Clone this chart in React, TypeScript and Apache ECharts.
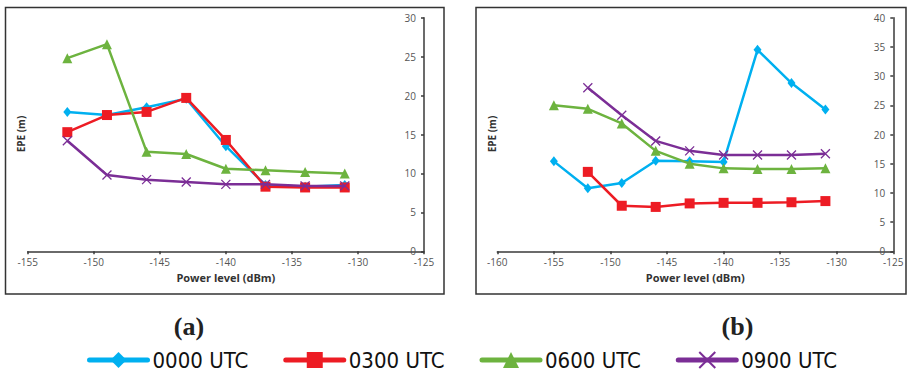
import React, { useEffect, useRef } from "react";
import * as echarts from "echarts";

const seriesNames = ["0000 UTC", "0300 UTC", "0600 UTC", "0900 UTC"];
const colors = ["#00b0f0", "#ed1c24", "#6db33f", "#7b2e96"];

const xA = [-152, -149, -146, -143, -140, -137, -134, -131];
const a0000 = [17.9, 17.5, 18.5, 19.6, 13.5, 8.5, 8.3, 8.5];
const a0300 = [15.3, 17.5, 17.9, 19.7, 14.3, 8.3, 8.2, 8.2];
const a0600 = [24.8, 26.6, 12.8, 12.5, 10.6, 10.4, 10.2, 10.0];
const a0900 = [14.2, 9.8, 9.2, 8.9, 8.6, 8.6, 8.4, 8.4];

const xB = [-155, -152, -149, -146, -143, -140, -137, -134, -131];
const b0000 = [15.4, 10.8, 11.7, 15.5, 15.4, 15.3, 34.5, 28.8, 24.3];
const b0300 = [null, 13.6, 7.8, 7.6, 8.2, 8.3, 8.3, 8.4, 8.6];
const b0600 = [25.0, 24.4, 21.9, 17.2, 15.0, 14.2, 14.1, 14.1, 14.2];
const b0900 = [null, 28.0, 23.3, 18.9, 17.2, 16.5, 16.5, 16.5, 16.7];

const xTicksA = { min: -155, max: -125, interval: 5 };
const xTicksB = { min: -160, max: -125, interval: 5 };
const yTicksA = { min: 0, max: 30, interval: 5 };
const yTicksB = { min: 0, max: 40, interval: 5 };

const crossPath = "path://M0,0L10,10M10,0L0,10";
const symbols = ["diamond", "rect", "triangle", crossPath];
const symbolSizes: any[] = [[8, 10], 10, 10, 9];

function pairs(xs: number[], ys: (number | null)[]) {
  const out: number[][] = [];
  xs.forEach((x, i) => {
    const y = ys[i];
    if (y !== null && y !== undefined) out.push([x, y]);
  });
  return out;
}

export default function App() {
  const ref = useRef<HTMLDivElement>(null);
  useEffect(() => {
    if (!ref.current) return;
    const chart = echarts.init(ref.current, null, { renderer: "svg" });
    const labelFont = "'Open Sans', 'Liberation Sans', sans-serif";
    const axisColor = "#3a3a3a";
    const mkX = (idx: number, t: any) => ({
      type: "value",
      gridIndex: idx,
      ...t,
      name: "Power level (dBm)",
      nameLocation: "middle",
      nameGap: 21,
      nameTextStyle: { fontFamily: labelFont, fontWeight: "bold", fontSize: 11, color: "#333" },
      axisLine: { show: true, onZero: false, lineStyle: { color: axisColor, width: 1.5 } },
      axisTick: { show: true, length: 3, lineStyle: { color: axisColor, width: 1.5 } },
      axisLabel: { fontFamily: labelFont, fontSize: 10, color: "#555", margin: 6 },
      splitLine: { show: false },
    });
    const mkY = (idx: number, t: any) => ({
      type: "value",
      gridIndex: idx,
      position: "right",
      ...t,
      axisLine: { show: true, lineStyle: { color: axisColor, width: 1.5 } },
      axisTick: { show: true, inside: true, length: 3, lineStyle: { color: axisColor, width: 1.5 } },
      axisLabel: { inside: true, fontFamily: labelFont, fontSize: 10, color: "#555", margin: 8 },
      splitLine: { show: false },
    });
    const dataA = [a0000, a0300, a0600, a0900];
    const dataB = [b0000, b0300, b0600, b0900];
    const series: any[] = [];
    [0, 1].forEach((g) => {
      seriesNames.forEach((name, i) => {
        const d = g === 0 ? pairs(xA, dataA[i]) : pairs(xB, dataB[i]);
        series.push({
          type: "line",
          name,
          xAxisIndex: g,
          yAxisIndex: g,
          data: d,
          color: colors[i],
          symbol: symbols[i],
          symbolSize: symbolSizes[i],
          showAllSymbol: true,
          lineStyle: { width: 2.5, color: colors[i] },
          itemStyle: {
            color: colors[i],
            borderColor: colors[i],
            borderWidth: i === 3 ? 1.3 : 0,
          },
          z: 2 + i,
        });
      });
    });
    chart.setOption({
      animation: false,
      backgroundColor: "#fff",
      grid: [
        { left: 27.7, top: 17.7, width: 396.3, height: 233.6 },
        { left: 497.3, top: 17.7, width: 396, height: 233.6 },
      ],
      xAxis: [mkX(0, xTicksA), mkX(1, xTicksB)],
      yAxis: [mkY(0, yTicksA), mkY(1, yTicksB)],
      legend: {
        data: seriesNames,
        left: 87,
        top: 349,
        padding: 0,
        itemWidth: 58,
        itemHeight: 20,
        itemGap: 35,
        lineStyle: { width: 5, cap: "round" },
        textStyle: {
          fontFamily: "'DejaVu Sans Condensed', sans-serif",
          fontSize: 22,
          color: "#111",
        },
      },
      graphic: [
        { type: "rect", shape: { x: 5.5, y: 7.5, width: 438.5, height: 286.5 }, style: { fill: "none", stroke: "#333", lineWidth: 1.5 }, silent: true },
        { type: "rect", shape: { x: 476, y: 7.5, width: 430, height: 286.5 }, style: { fill: "none", stroke: "#333", lineWidth: 1.5 }, silent: true },
        { type: "text", x: 21, y: 134, rotation: Math.PI / 2, style: { text: "EPE (m)", fontFamily: labelFont, fontWeight: "bold", fontSize: 10, fill: "#333", align: "center", verticalAlign: "middle" } },
        { type: "text", x: 492, y: 134, rotation: Math.PI / 2, style: { text: "EPE (m)", fontFamily: labelFont, fontWeight: "bold", fontSize: 10, fill: "#333", align: "center", verticalAlign: "middle" } },
        { type: "text", x: 189, y: 326, style: { text: "(a)", fontFamily: "'Liberation Serif', serif", fontWeight: "bold", fontSize: 26, fill: "#222", align: "center", verticalAlign: "middle" } },
        { type: "text", x: 737.5, y: 326, style: { text: "(b)", fontFamily: "'Liberation Serif', serif", fontWeight: "bold", fontSize: 26, fill: "#222", align: "center", verticalAlign: "middle" } },
      ],
      series,
    });
    return () => chart.dispose();
  }, []);
  return (
    <div
      ref={ref}
      style={{ position: "fixed", left: 0, top: 0, width: 907, height: 378 }}
    />
  );
}
